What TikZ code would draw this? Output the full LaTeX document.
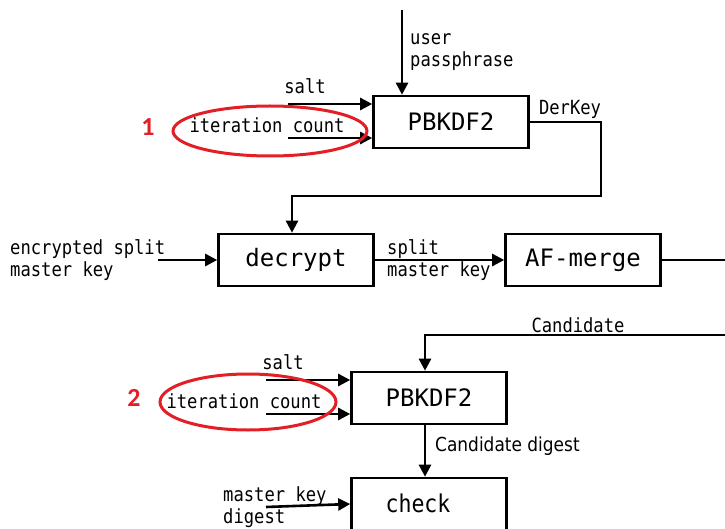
\documentclass[tikz,border=0pt]{standalone}
\usepackage{fontspec}
\setmonofont{DejaVu Sans Mono}
\setsansfont{DejaVu Sans}
\newfontfamily\condmono[FakeStretch=0.88]{DejaVu Sans Mono}
\newfontfamily\condsans[FakeStretch=0.88]{DejaVu Sans}
\newfontfamily\numfont{Carlito}
\usetikzlibrary{arrows.meta}
\tikzset{>={Triangle[width=12pt,length=12pt]}}
\definecolor{markred}{RGB}{228,30,38}

\begin{document}
\begin{tikzpicture}[x=1pt,y=-1pt,
  box/.style={draw,line width=2.6pt,minimum width=155pt,minimum height=52pt,inner sep=0pt,
    font=\ttfamily\fontsize{24}{24}\selectfont},
  lbl/.style={font=\condmono\fontsize{19.5}{22}\selectfont,inner sep=0pt,align=left},
  conn/.style={line width=2.6pt,->},
  wire/.style={line width=2.6pt},
  ring/.style={draw=markred,line width=3pt},
  num/.style={text=markred,font=\numfont\bfseries\fontsize{26}{26}\selectfont}]

  \useasboundingbox (0,0) rectangle (725,529);

  % boxes
  \node[box] (kdfA) at (451,122) {PBKDF2};
  \node[box] (decrypt) at (296,260) {decrypt};
  \node[box] (merge) at (583,260) {AF-merge};
  \node[box] (kdfB) at (429,398) {PBKDF2};
  \node[box] (check) at (429,504) {};
  \node[font=\condmono\fontsize{24.5}{24.5}\selectfont,inner sep=0pt] (checklbl) at (418,503) {check};

  % first PBKDF2
  \coordinate (pass) at (402,10);
  \draw[conn] (pass) -- (pass |- kdfA.north); % passphrase
  \node[lbl,anchor=north west] (passlbl) at (410,33) {user\\passphrase};

  \coordinate (saltA) at (288,104);
  \draw[conn] (saltA) -- (saltA -| kdfA.west);
  \node[lbl] (saltAlbl) at (305,86) {salt};
  \coordinate (iterA) at (288,138);
  \draw[conn] (iterA) -- (iterA -| kdfA.west);
  \node[lbl] (iterAlbl) at (267,125) {iteration count};
  \draw[ring] (270,131) ellipse [x radius=97, y radius=25];
  \node[num] (numA) at (148,127) {1};

  \coordinate (bend) at (601,196);
  \draw[conn] (kdfA.east) -| (bend) -| ([xshift=-4pt]decrypt.north); % DerKey
  \node[lbl] (derlbl) at (570,109) {DerKey};

  % decrypt and merge
  \coordinate (enc) at (158,260);
  \draw[conn] (enc) -- (decrypt.west);
  \node[lbl,anchor=west] (enclbl) at (10,260) {encrypted split\\master key};
  \draw[conn] (decrypt) -- (merge);
  \node[lbl,anchor=west] (splitlbl) at (387,260) {split\\master key};
  \coordinate (mergeout) at (725,260);
  \draw[wire] (merge) -- (mergeout);

  % second PBKDF2
  \coordinate (cand) at (725,335);
  \draw[conn] (cand) -| ([xshift=-4pt]kdfB.north); % Candidate
  \node[lbl] (candlbl) at (578,325) {Candidate};

  \coordinate (saltB) at (266,380);
  \draw[conn] (saltB) -- (saltB -| kdfB.west);
  \node[lbl] (saltBlbl) at (283,362) {salt};
  \coordinate (iterB) at (266,414);
  \draw[conn] (iterB) -- (iterB -| kdfB.west);
  \node[lbl] (iterBlbl) at (244,401) {iteration count};
  \draw[ring] (248,402) ellipse [x radius=88, y radius=28];
  \node[num] (numB) at (134,398) {2};

  \draw[conn] ([xshift=-4pt]kdfB.south) -- ([xshift=-4pt]check.north);
  \node[lbl,anchor=west,font=\condsans\fontsize{19.3}{22}\selectfont] (digestlbl) at (435,446) {Candidate digest};

  \coordinate (mkd) at (266,507);
  \draw[conn] (mkd) -- (check.west);
  \node[lbl,anchor=west] (mkdlbl) at (223,507) {master key\\digest};

\end{tikzpicture}
\end{document}
